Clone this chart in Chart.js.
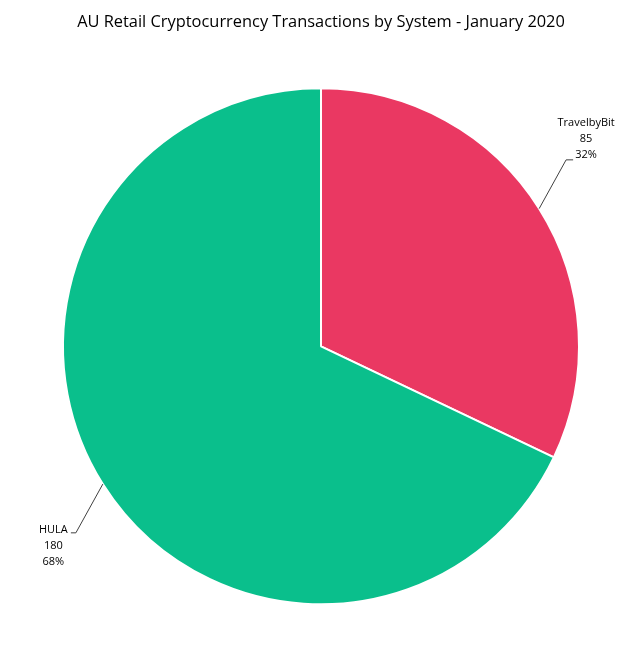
<!DOCTYPE html>
<html>
<head>
<meta charset="utf-8">
<script src="https://cdn.jsdelivr.net/npm/chart.js@4.4.0/dist/chart.umd.min.js"></script>
<style>
  html, body { margin: 0; padding: 0; background: #ffffff; }
  #wrap { width: 643px; height: 658px; }
</style>
</head>
<body>
<div id="wrap"><canvas id="pieChart"></canvas></div>
<script>
// Datos del gráfico
const categorias = ['TravelbyBit', 'HULA'];
const valores = [85, 180];
const colores = ['#EA3862', '#0ABF8C'];

// Etiquetas con líneas guía al estilo Excel
const etiquetasPlugin = {
    id: 'etiquetas',
    afterDatasetsDraw(chart) {
        const ctx = chart.ctx;
        const meta = chart.getDatasetMeta(0);
        const total = valores.reduce((a, b) => a + b, 0);
        ctx.save();
        ctx.font = '11px "Open Sans"';
        ctx.fillStyle = '#000000';
        ctx.strokeStyle = '#404040';
        ctx.lineWidth = 1;
        ctx.textAlign = 'center';
        ctx.textBaseline = 'middle';
        meta.data.forEach(function (arc, i) {
            const p = arc.getProps(['x', 'y', 'startAngle', 'endAngle', 'outerRadius'], true);
            const mid = (p.startAngle + p.endAngle) / 2;
            const x0 = p.x + Math.cos(mid) * p.outerRadius;
            const y0 = p.y + Math.sin(mid) * p.outerRadius;
            const a2 = mid - 5 * Math.PI / 180;
            const x1 = p.x + Math.cos(a2) * (p.outerRadius + 50);
            const y1 = p.y + Math.sin(a2) * (p.outerRadius + 50);
            const derecha = x1 > p.x;
            const x2 = derecha ? x1 + 7 : x1 - 5;
            ctx.beginPath();
            ctx.moveTo(x0, y0);
            ctx.lineTo(x1, y1);
            ctx.lineTo(x2, y1);
            ctx.stroke();
            const pct = Math.round(valores[i] / total * 100) + '%';
            const lineas = [categorias[i], String(valores[i]), pct];
            if (derecha) {
                lineas.forEach(function (t, k) {
                    ctx.fillText(t, x2 + 13, y1 - 37 + k * 16);
                });
            } else {
                lineas.forEach(function (t, k) {
                    ctx.fillText(t, x2 - 17.5, y1 - 3 + k * 16);
                });
            }
        });
        ctx.restore();
    }
};

const pieCtx = document.getElementById('pieChart').getContext('2d');
const pieChart = new Chart(pieCtx, {
    type: 'pie',
    data: {
        labels: categorias,
        datasets: [{
            data: valores,
            backgroundColor: colores,
            borderColor: '#ffffff',
            borderWidth: 2,
            hoverOffset: 0
        }]
    },
    options: {
        responsive: true,
        maintainAspectRatio: false,
        animation: false,
        layout: {
            padding: { top: 0, bottom: 52, left: 62, right: 63 }
        },
        plugins: {
            legend: { display: false },
            tooltip: { enabled: false },
            title: {
                display: true,
                text: 'AU Retail Cryptocurrency Transactions by System - January 2020',
                color: '#000000',
                font: { family: 'Open Sans', size: 16.4, weight: 'normal' },
                padding: { top: 12, bottom: 55 }
            }
        }
    },
    plugins: [etiquetasPlugin]
});
</script>
</body>
</html>
